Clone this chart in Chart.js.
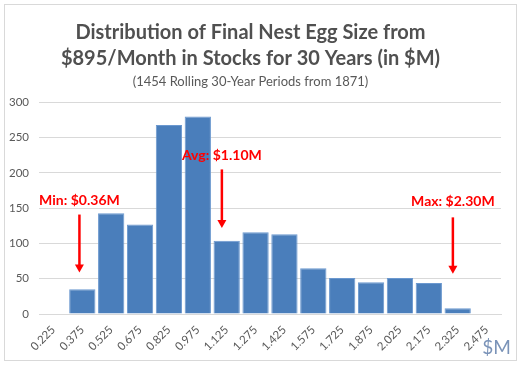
<!DOCTYPE html>
<html>
<head>
<meta charset="utf-8">
<script src="https://cdn.jsdelivr.net/npm/chart.js@4.4.1/dist/chart.umd.min.js"></script>
<style>
  html, body { margin: 0; padding: 0; background: #ffffff; }
  #wrap { position: relative; width: 523px; height: 368px; }
  canvas { display: block; }
</style>
</head>
<body>
<div id="wrap"><canvas id="c" width="523" height="368"></canvas></div>
<script>
// ---- data ----
const binLabels = ["0.225","0.375","0.525","0.675","0.825","0.975","1.125","1.275","1.425","1.575","1.725","1.875","2.025","2.175","2.325","2.475"];
const binMidValues = [0.225,0.375,0.525,0.675,0.825,0.975,1.125,1.275,1.425,1.575,1.725,1.875,2.025,2.175,2.325,2.475];
const periodCounts = [0,35,143,127,268,280,104,116,113,65,51,45,51,44,8,0];
const titleLines = ["Distribution of Final Nest Egg Size from", "$895/Month in Stocks for 30 Years (in $M)"];
const subtitleText = "(1454 Rolling 30-Year Periods from 1871)";
const unitLabel = "$M";
const markerLabels = ["Min: $0.36M", "Avg: $1.10M", "Max: $2.30M"];
const markerValues = [0.36, 1.10, 2.30];

// annotation placement (in y-axis units), kept separate from data
const markerLayout = [
  { textY: 161, arrowTop: 141, arrowBottom: 59 },
  { textY: 225, arrowTop: 205, arrowBottom: 122 },
  { textY: 160, arrowTop: 137, arrowBottom: 57 }
];

const FONT = "Lato, 'Open Sans', 'DejaVu Sans', sans-serif";

function valueToPixel(xScale, v) {
  for (let i = 0; i < binMidValues.length - 1; i++) {
    const a = binMidValues[i], b = binMidValues[i + 1];
    if (v >= a && v <= b) {
      const pa = xScale.getPixelForValue(i), pb = xScale.getPixelForValue(i + 1);
      return pa + (pb - pa) * (v - a) / (b - a);
    }
  }
  return xScale.getPixelForValue(0);
}

const decorPlugin = {
  id: 'decor',
  beforeDraw(chart) {
    const ctx = chart.ctx;
    ctx.save();
    ctx.fillStyle = '#ffffff';
    ctx.fillRect(0, 0, chart.width, chart.height);
    ctx.restore();
  },
  afterDraw(chart) {
    const ctx = chart.ctx;
    const xs = chart.scales.x, ys = chart.scales.y;
    ctx.save();
    ctx.strokeStyle = '#d9d9d9';
    ctx.lineWidth = 1;
    ctx.strokeRect(4.5, 4.5, 512, 356);
    markerLabels.forEach((lab, i) => {
      const x = valueToPixel(xs, markerValues[i]);
      const L = markerLayout[i];
      const yT = ys.getPixelForValue(L.textY);
      const y1 = ys.getPixelForValue(L.arrowTop);
      const y2 = ys.getPixelForValue(L.arrowBottom);
      ctx.fillStyle = '#ff0000';
      ctx.font = "bold 14px " + FONT;
      ctx.textAlign = 'center';
      ctx.textBaseline = 'middle';
      ctx.fillText(lab, x, yT);
      ctx.strokeStyle = '#ff0000';
      ctx.lineWidth = 2.5;
      ctx.beginPath();
      ctx.moveTo(x, y1);
      ctx.lineTo(x, y2 - 7);
      ctx.stroke();
      ctx.beginPath();
      ctx.moveTo(x - 4.5, y2 - 8);
      ctx.lineTo(x + 4.5, y2 - 8);
      ctx.lineTo(x, y2);
      ctx.closePath();
      ctx.fill();
    });
    ctx.fillStyle = '#7a93b8';
    ctx.font = "19px " + FONT;
    ctx.textAlign = 'right';
    ctx.textBaseline = 'alphabetic';
    ctx.fillText(unitLabel, 511, 354);
    ctx.restore();
  }
};

new Chart(document.getElementById('c'), {
  type: 'bar',
  data: {
    labels: binLabels,
    datasets: [{
      data: periodCounts,
      backgroundColor: '#4a7ebb',
      borderColor: '#6b98cf',
      borderWidth: 1,
      barPercentage: 0.91,
      categoryPercentage: 1.0
    }]
  },
  options: {
    responsive: false,
    animation: false,
    devicePixelRatio: 1,
    layout: { padding: { left: 0, right: 22, top: 0, bottom: 0 } },
    plugins: {
      legend: { display: false },
      tooltip: { enabled: false },
      title: {
        display: true,
        text: titleLines,
        color: '#505050',
        font: { family: FONT, size: 20, weight: 'bold', lineHeight: 1.32 },
        padding: { top: 19, bottom: 0 }
      },
      subtitle: {
        display: true,
        text: subtitleText,
        color: '#595959',
        font: { family: FONT, size: 13, lineHeight: 1.2 },
        padding: { top: 2, bottom: 13 }
      }
    },
    scales: {
      x: {
        grid: { display: false, drawTicks: false },
        border: { display: true, color: '#d9d9d9' },
        ticks: {
          color: '#595959',
          font: { family: FONT, size: 11.5 },
          minRotation: 45, maxRotation: 45,
          autoSkip: false,
          padding: 9
        },
        afterFit(scale) { scale.height = 54; }
      },
      y: {
        min: 0, max: 300,
        grid: { color: '#d9d9d9', drawTicks: false },
        border: { display: false },
        ticks: {
          stepSize: 50,
          color: '#595959',
          font: { family: FONT, size: 11.5 },
          padding: 10
        },
        afterFit(scale) { scale.width = 39; }
      }
    }
  },
  plugins: [decorPlugin]
});
</script>
</body>
</html>
